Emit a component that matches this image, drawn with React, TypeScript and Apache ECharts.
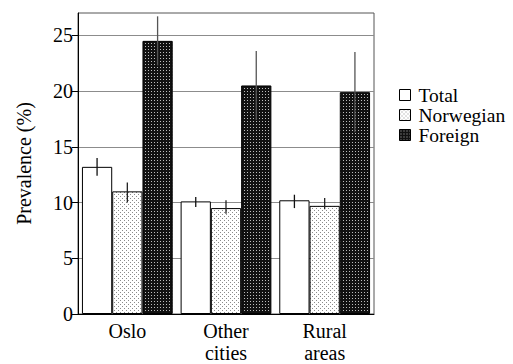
import React, { useEffect, useRef } from "react";
import * as echarts from "echarts";

const categories = ["Oslo", "Other\ncities", "Rural\nareas"];
const seriesNames = ["Total", "Norwegian", "Foreign"];
const totalValues = [13.2, 10.1, 10.2];
const norwegianValues = [11.0, 9.5, 9.7];
const foreignValues = [24.5, 20.5, 19.9];
const totalLow = [12.4, 9.6, 9.5];
const totalHigh = [14.0, 10.5, 10.7];
const norwegianLow = [10.0, 9.0, 9.4];
const norwegianHigh = [11.8, 10.2, 10.4];
const foreignLow = [22.3, 17.4, 16.3];
const foreignHigh = [26.7, 23.6, 23.5];
const yTicks = [0, 5, 10, 15, 20, 25];

function makePattern(bg: string, dot: string, size: number, dots: number[][]) {
  const c = document.createElement("canvas");
  c.width = size;
  c.height = size;
  const ctx = c.getContext("2d")!;
  ctx.fillStyle = bg;
  ctx.fillRect(0, 0, size, size);
  ctx.fillStyle = dot;
  dots.forEach(([x, y]) => ctx.fillRect(x, y, 1, 1));
  return {
    image: c.toDataURL(),
    repeat: "repeat",
    imageWidth: size,
    imageHeight: size,
  } as any;
}

export default function App() {
  const ref = useRef<HTMLDivElement>(null);
  useEffect(() => {
    document.body.style.margin = "0";
    document.body.style.overflow = "hidden";
    const chart = echarts.init(ref.current!, null, { renderer: "svg" });
    const font = "Liberation Serif";
    const norPattern = makePattern("#ffffff", "#8a8a8a", 4, [[0, 0], [2, 2]]);
    const forPattern = makePattern("#111111", "#bdbdbd", 3, [[1, 1]]);
    const values = [totalValues, norwegianValues, foreignValues];
    const lows = [totalLow, norwegianLow, foreignLow];
    const highs = [totalHigh, norwegianHigh, foreignHigh];
    const fills = ["#ffffff", norPattern, forPattern];
    const errColors = ["#111", "#222", "#555"];
    const errData: any[] = [];
    for (let s = 0; s < 3; s++) {
      for (let i = 0; i < categories.length; i++) {
        errData.push([i, lows[s][i], highs[s][i], s]);
      }
    }
    const barSeries = seriesNames.map((name, s) => ({
      name,
      type: "bar",
      data: values[s],
      barGap: "0%",
      barCategoryGap: "8%",
      itemStyle: { color: fills[s], borderColor: "#000", borderWidth: 1 },
      z: 2,
    }));
    chart.setOption({
      animation: false,
      textStyle: { fontFamily: font, color: "#000" },
      grid: {
        left: 78,
        right: 139,
        top: 13,
        bottom: 46,
        show: true,
        borderColor: "#555",
        borderWidth: 1,
      },
      legend: {
        data: seriesNames,
        orient: "vertical",
        left: 399,
        top: 85,
        padding: 0,
        itemWidth: 11,
        itemHeight: 11,
        itemGap: 0,
        icon: "rect",
        textStyle: { fontFamily: font, fontSize: 19.5, color: "#000", lineHeight: 20, padding: [0, 0, 0, 3] },
        itemStyle: { borderColor: "#000", borderWidth: 1 },
      },
      xAxis: {
        type: "category",
        data: categories,
        axisTick: { show: false },
        axisLine: { lineStyle: { color: "#000", width: 1 } },
        axisLabel: {
          interval: 0,
          fontFamily: font,
          fontSize: 20,
          lineHeight: 22,
          color: "#000",
          margin: 6,
        },
      },
      yAxis: {
        type: "value",
        min: 0,
        max: 27,
        interval: 5,
        name: "Prevalence (%)",
        nameLocation: "middle",
        nameRotate: 90,
        nameGap: 44,
        nameTextStyle: { fontFamily: font, fontSize: 20, color: "#000" },
        axisLine: { show: true, lineStyle: { color: "#000", width: 1 } },
        axisTick: { show: true, length: 6, lineStyle: { color: "#000" }, customValues: yTicks },
        axisLabel: { fontFamily: font, fontSize: 20, color: "#000", margin: 5, customValues: yTicks },
        splitLine: { show: true, lineStyle: { color: "#8c8c8c", width: 1 } },
      },
      series: [
        ...barSeries,
        {
          type: "custom",
          name: "err",
          data: errData,
          z: 5,
          renderItem: (params: any, api: any) => {
            const ci = api.value(0);
            const lo = api.value(1);
            const hi = api.value(2);
            const s = api.value(3);
            const band = api.size([1, 0])[0];
            const bw = (band * 0.92) / 3;
            const p1 = api.coord([ci, lo]);
            const p2 = api.coord([ci, hi]);
            const x = p1[0] + (s - 1) * bw;
            return {
              type: "line",
              shape: { x1: x, y1: p1[1], x2: x, y2: p2[1] },
              style: { stroke: errColors[s], lineWidth: 1.3 },
            };
          },
        },
      ],
    } as any);
    return () => chart.dispose();
  }, []);
  return <div ref={ref} style={{ width: 513, height: 364 }} />;
}
